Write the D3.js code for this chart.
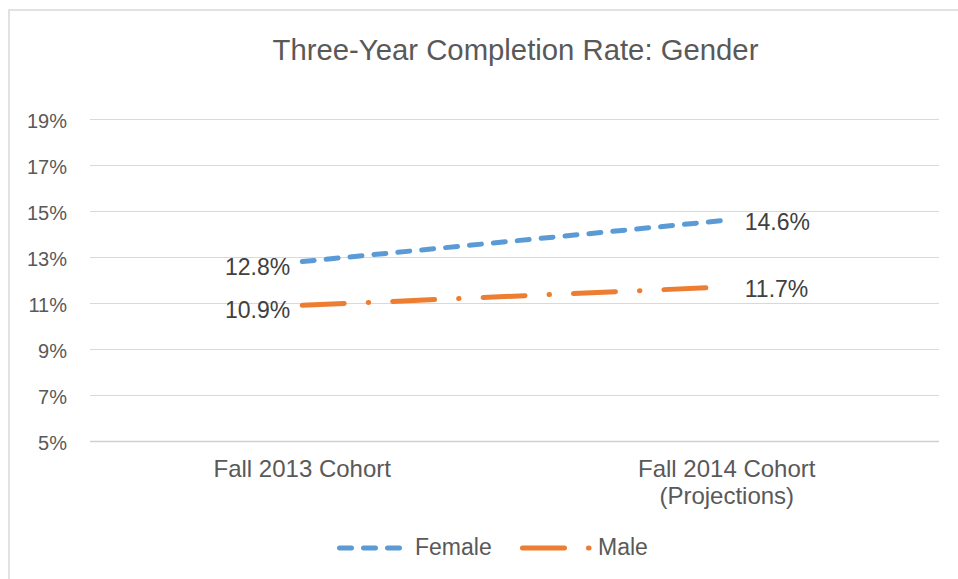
<!DOCTYPE html>
<html>
<head>
<meta charset="utf-8">
<script src="https://cdn.jsdelivr.net/npm/d3@7"></script>
<style>
  html, body { margin: 0; padding: 0; background: #fff; }
  svg { display: block; font-family: "Liberation Sans", Arial, sans-serif; }
</style>
</head>
<body>
<svg id="chart" width="958" height="579"></svg>
<script>
const title = "Three-Year Completion Rate: Gender";
const categories = ["Fall 2013 Cohort", "Fall 2014 Cohort\n(Projections)"];
const female = [12.8, 14.6];
const male = [10.9, 11.7];
const yTicks = [5, 7, 9, 11, 13, 15, 17, 19];
const seriesNames = ["Female", "Male"];

const svg = d3.select("#chart");
const W = 958, H = 579;

// chart border (extends beyond picture right/bottom)
svg.append("rect")
  .attr("x", 9).attr("y", 10)
  .attr("width", 1200).attr("height", 1200)
  .attr("fill", "#fff").attr("stroke", "#d9d9d9").attr("stroke-width", 1.5);

const x = d3.scaleBand().domain(categories).range([90, 939]).padding(0);
const y = d3.scaleLinear().domain([5, 19]).range([441, 119]);
const cx = d => x(d) + x.bandwidth() / 2;

// title
svg.append("text")
  .attr("x", 515.5).attr("y", 60)
  .attr("text-anchor", "middle")
  .attr("font-size", 29.3).attr("fill", "#595959")
  .text(title);

// gridlines
const yAxis = d3.axisLeft(y).tickValues(yTicks).tickSize(-(939 - 90)).tickFormat(d => d + "%");
const gy = svg.append("g").attr("transform", "translate(90,0)").call(yAxis);
gy.select(".domain").remove();
gy.selectAll(".tick line").attr("stroke", "#d9d9d9").attr("stroke-width", 1);
gy.selectAll(".tick").filter(d => d === 5).select("line").attr("stroke", "#d0d0d0").attr("stroke-width", 1.6);
gy.selectAll(".tick text")
  .attr("x", -23).attr("dy", null).attr("y", 8)
  .attr("font-size", 20).attr("fill", "#595959")
  .attr("font-family", "Liberation Sans, Arial, sans-serif");

// x axis labels
const gx = svg.append("g");
categories.forEach(c => {
  const lines = c.split("\n");
  const t = gx.append("text")
    .attr("x", cx(c)).attr("y", 476.5)
    .attr("text-anchor", "middle")
    .attr("font-size", 24).attr("fill", "#595959");
  lines.forEach((l, i) => {
    t.append("tspan").attr("x", cx(c)).attr("dy", i === 0 ? 0 : 27).text(l);
  });
});

const line = d3.line().x((d, i) => cx(categories[i])).y(d => y(d));

const styles = {
  Female: { color: "#5B9BD5", dash: "12,12" },
  Male: { color: "#ED7D31", dash: "42,24,0.5,24" }
};

const data = [["Female", female], ["Male", male]];
data.forEach(([name, vals]) => {
  svg.append("path")
    .datum(vals)
    .attr("d", line)
    .attr("fill", "none")
    .attr("stroke", styles[name].color)
    .attr("stroke-width", 5)
    .attr("stroke-linecap", "round")
    .attr("stroke-dasharray", styles[name].dash);
  // data labels
  svg.append("text")
    .attr("x", cx(categories[0]) - 12).attr("y", y(vals[0]) + 13)
    .attr("text-anchor", "end").attr("font-size", 23).attr("fill", "#404040")
    .text(vals[0].toFixed(1) + "%");
  svg.append("text")
    .attr("x", cx(categories[1]) + 18).attr("y", y(vals[1]) + 10)
    .attr("text-anchor", "start").attr("font-size", 23).attr("fill", "#404040")
    .text(vals[1].toFixed(1) + "%");
});

// legend
const legendItems = [
  { name: "Female", x1: 339.5, x2: 402, tx: 415 },
  { name: "Male", x1: 522.5, x2: 594, tx: 598 }
];
const lg = svg.append("g");
legendItems.forEach(it => {
  lg.append("line")
    .attr("x1", it.x1).attr("x2", it.x2).attr("y1", 548).attr("y2", 548)
    .attr("stroke", styles[it.name].color).attr("stroke-width", 5)
    .attr("stroke-linecap", "round")
    .attr("stroke-dasharray", styles[it.name].dash);
  lg.append("text")
    .attr("x", it.tx).attr("y", 554.5)
    .attr("font-size", 23).attr("fill", "#595959")
    .text(it.name);
});
</script>
</body>
</html>
